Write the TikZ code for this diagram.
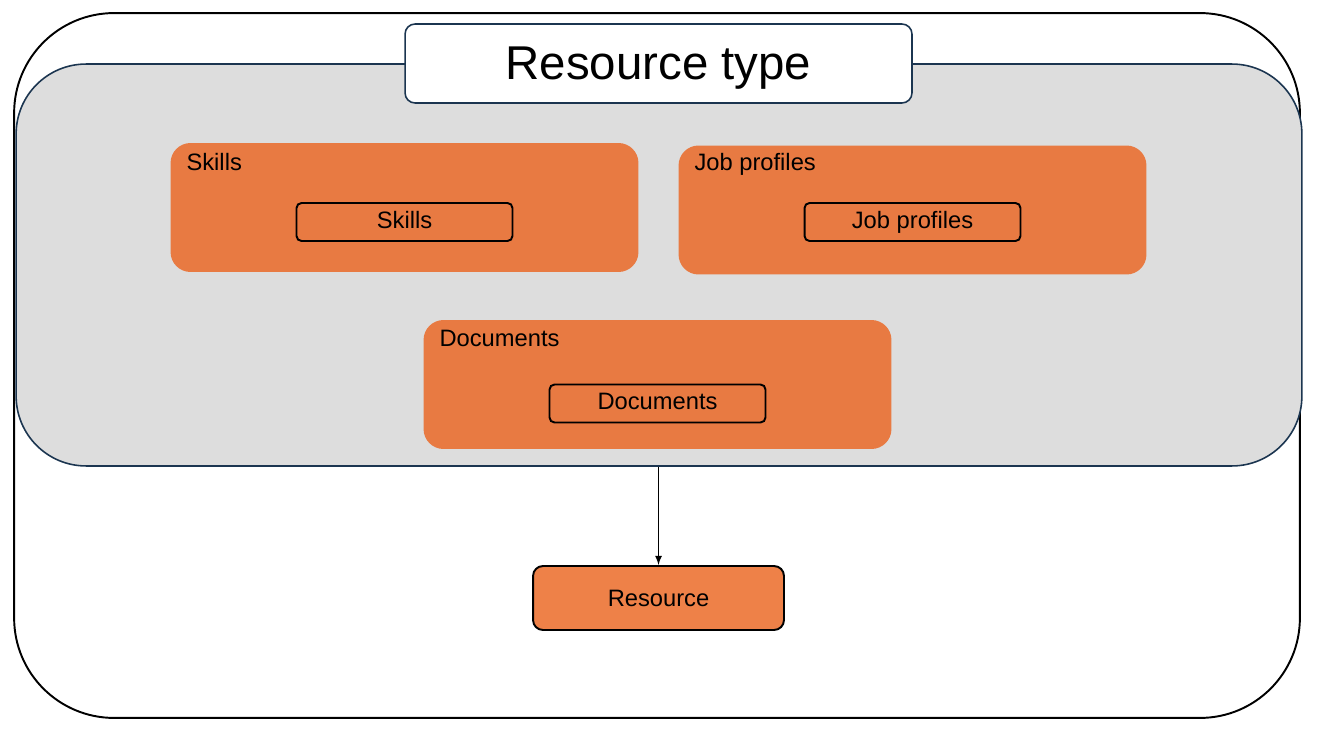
\documentclass[tikz,border=0pt]{standalone}
\usepackage{fontspec}
\setmainfont{Liberation Sans}
\usetikzlibrary{positioning}
\definecolor{grpOrange}{HTML}{E87A42}
\definecolor{resOrange}{HTML}{EE8148}
\definecolor{panelGray}{HTML}{DDDDDD}
\definecolor{navy}{HTML}{1B3550}

\begin{document}
\begin{tikzpicture}[
x=0.02cm, y=-0.02cm,
every node/.style={inner sep=0, font=\fontsize{13.5}{16}\selectfont},
outerbox/.style={draw=black, line width=1.1pt, rounded corners=2cm, minimum width=25.72cm, minimum height=14.1cm},
panelbox/.style={draw=navy, fill=panelGray, line width=0.9pt, rounded corners=1.4cm, minimum width=25.72cm, minimum height=8.04cm},
titlebox/.style={draw=navy, fill=white, line width=0.9pt, rounded corners=0.2cm, minimum width=10.14cm, minimum height=1.58cm, text depth=0pt, font=\fontsize{27}{32}\selectfont},
groupbox/.style={fill=grpOrange, rounded corners=0.4cm, minimum width=9.36cm, minimum height=2.58cm},
itembox/.style={draw=black, line width=1.1pt, rounded corners=0.1cm, minimum width=4.32cm, minimum height=0.76cm, text height=0.716em, text depth=0pt},
resbox/.style={draw=black, fill=resOrange, line width=1.1pt, rounded corners=0.2cm, minimum width=5.02cm, minimum height=1.28cm}
]
\useasboundingbox (0,0) rectangle (1317,733);
% Containers
\node[outerbox] (outer) at (657,365.5) {};
\node[panelbox] (panel) at (659,265) {};
\node[titlebox] (title) at (658.5,63.5) {Resource type};
% Groups
\foreach \g/\t/\x/\y/\d in {skills/Skills/404.5/207.5/14.5, jobs/Job profiles/912.5/210/12, docs/Documents/657.5/384.5/19}{
    \node[groupbox] (\g) at (\x,\y) {};
    \node[anchor=west] (\g-label) at ([xshift=16*0.02cm, yshift=-19*0.02cm]\g.north west) {\t};
    \node[itembox] (\g-item) at (\x,\y+\d) {\t};
}
\node[resbox] (res) at (658.5,598) {Resource};
\draw[-latex, line width=0.8pt] (res.north |- panel.south) -- (res.north);
\end{tikzpicture}
\end{document}
